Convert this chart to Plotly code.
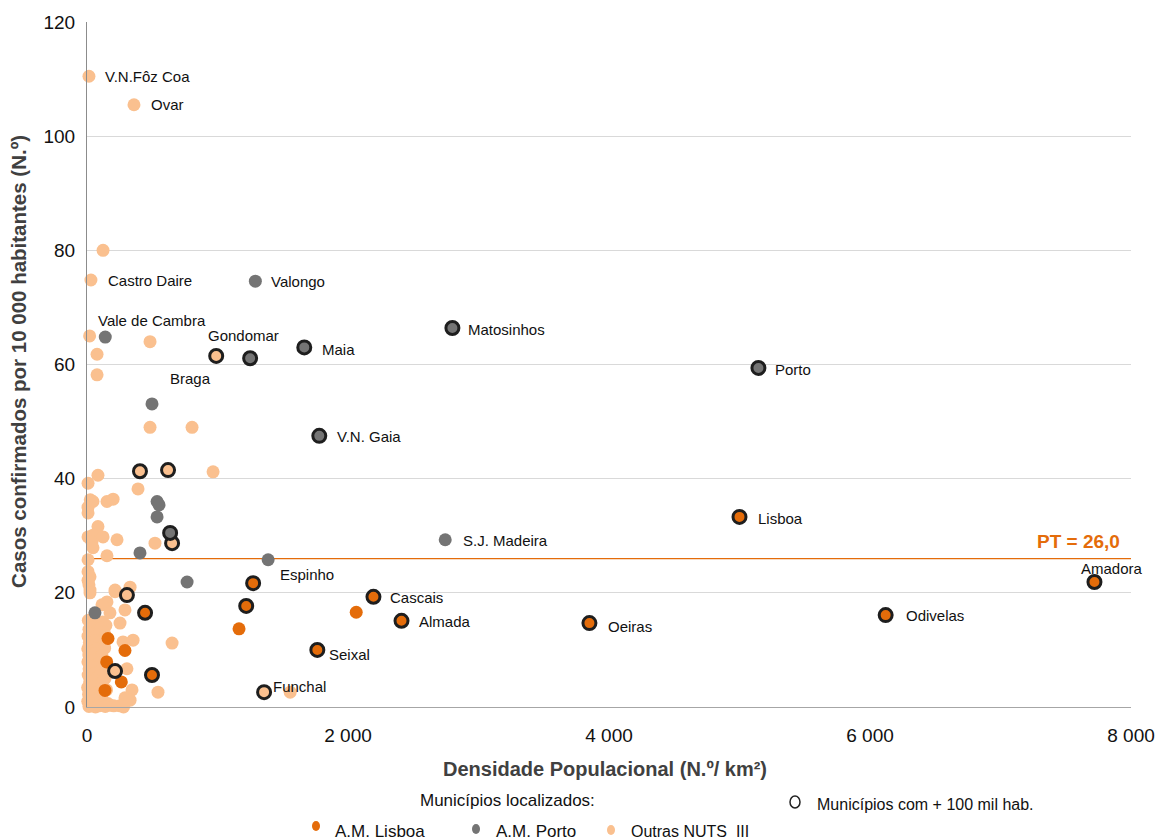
import plotly.graph_objects as go

# ---------------- DATA ----------------
# A.M. Lisboa - municipalities with more than 100 thousand inhabitants (outlined)
lis_big_names = ["Lisboa", "Amadora", "Odivelas", "Oeiras", "Cascais", "Almada", "Seixal",
                 "Sintra", "Loures", "Vila Franca de Xira", "Setúbal"]
lis_big_x = [5000, 7720, 6120, 3850, 2195, 2410, 1765, 1273, 1220, 445, 498]
lis_big_y = [33.3, 21.9, 16.1, 14.7, 19.3, 15.1, 10.0, 21.7, 17.7, 16.5, 5.6]

# A.M. Lisboa - other municipalities
lis_x = [1165, 2063, 161, 291, 151, 263, 138]
lis_y = [13.7, 16.6, 12.0, 9.9, 7.9, 4.4, 2.9]

# A.M. Porto - >100 mil hab.
por_big_names = ["Porto", "Matosinhos", "Maia", "Gondomar", "V.N. Gaia", "Santa Maria da Feira"]
por_big_x = [5145, 2800, 1665, 1250, 1780, 637]
por_big_y = [59.4, 66.4, 63.0, 61.1, 47.5, 30.5]

# A.M. Porto - other
por_names = ["Valongo", "Vale de Cambra", "S.J. Madeira", "Espinho", "", "", "", "", "", "", ""]
por_x = [1290, 140, 2745, 1388, 498, 537, 552, 537, 406, 767, 61]
por_y = [74.6, 64.8, 29.3, 25.8, 53.1, 36.0, 35.4, 33.3, 27.0, 21.9, 16.5]

# Outras NUTS III - >100 mil hab.
out_big_names = ["Braga", "", "", "", "", "", "Funchal"]
out_big_x = [990, 406, 621, 652, 306, 215, 1357]
out_big_y = [61.5, 41.3, 41.5, 28.7, 19.6, 6.3, 2.6]

# Outras NUTS III - other municipalities
out_names = ["V.N.Fôz Coa", "Ovar", "Castro Daire"]
out_x = [15, 360, 30, 123, 20, 77, 77, 483,
         483, 805, 966, 84, 8, 391, 25, 46, 8, 153, 200, 8,
         84, 8, 46, 123, 38, 46, 230, 521, 153, 8,
         8, 23, 8, 15, 23, 215, 330, 23, 215,
         153, 115, 176, 291, 253, 276, 353, 652, 306, 345, 544, 1557, 291, 330, 253, 280,
         10, 35, 60, 90, 120, 145,
         15, 45, 75, 105, 130,
         8, 28, 55, 82, 110, 140,
         18, 40, 68, 95, 125,
         6, 30, 52, 78, 102, 135,
         14, 38, 62, 88, 115,
         7, 25, 48, 72, 98, 128,
         16, 36, 58, 84, 112,
         9, 27, 50, 74, 96, 138,
         20, 42, 65, 90, 118,
         5, 30, 55, 80, 105, 150,
         12, 38, 62, 88, 115,
         6, 25, 48, 72, 98, 125, 160,
         15, 40, 65, 92, 140, 175, 205]
out_y = [110.5, 105.5, 74.8, 80.0, 65.0, 61.8, 58.2, 64.0,
         49.0, 49.0, 41.2, 40.6, 39.2, 38.2, 36.3, 36.0, 35.0, 36.0, 36.4, 34.0,
         31.6, 29.8, 30.1, 29.8, 28.9, 27.9, 29.3, 28.7, 26.5, 25.8,
         23.7, 22.8, 22.2, 21.4, 20.5, 20.5, 21.0, 20.0, 20.2,
         18.4, 17.9, 16.5, 17.0, 14.7, 11.4, 11.7, 11.2, 6.7, 3.0, 2.6, 2.6, 1.6, 1.2, 0.2, 0.0,
         15.2, 14.8, 15.0, 14.6, 14.9, 14.3,
         13.6, 13.9, 13.3, 13.8, 13.1,
         12.4, 12.8, 12.1, 12.6, 12.0, 12.5,
         11.3, 11.0, 11.6, 11.2, 10.9,
         10.2, 10.5, 9.8, 10.1, 9.7, 10.3,
         9.1, 8.8, 9.3, 8.6, 9.0,
         7.9, 7.6, 8.1, 7.4, 7.8, 7.2,
         6.7, 6.4, 6.9, 6.2, 6.6,
         5.6, 5.3, 5.8, 5.1, 5.5, 5.0,
         4.4, 4.1, 4.6, 4.0, 4.3,
         3.4, 3.1, 3.6, 2.9, 3.3, 3.0,
         2.2, 1.9, 2.4, 1.7, 2.1,
         1.0, 0.7, 1.2, 0.5, 0.9, 0.4, 0.6,
         0.1, 0.2, 0.0, 0.2, 0.1, 0.3, 0.2]

PT_VALUE = 26.0

x_tickvals = [0, 2000, 4000, 6000, 8000]
x_ticktext = ["0", "2 000", "4 000", "6 000", "8 000"]
y_tickvals = [0, 20, 40, 60, 80, 100, 120]

# label offsets (pixels): name -> (xshift, yshift)
label_offsets = {
    "V.N.Fôz Coa": (14, 0), "Ovar": (15, 0), "Castro Daire": (15, 0), "Valongo": (14, 0),
    "Maia": (16, -2), "Matosinhos": (14, -2), "Porto": (15, -2), "V.N. Gaia": (16, -1),
    "Lisboa": (16, -2), "S.J. Madeira": (16, -1), "Odivelas": (18, 0), "Oeiras": (17, -3),
    "Cascais": (15, -1), "Almada": (15, -1), "Seixal": (10, -5), "Funchal": (7, 6),
    "Espinho": (10, -15), "Vale de Cambra": (-9, 17), "Gondomar": (-44, 23),
    "Braga": (-48, -23), "Amadora": (-15, 13),
}

# ---------------- STYLE ----------------
ORANGE = "#E46C0A"
GRAY = "#747474"
PEACH = "#FAC08F"
OUTLINE = "#1E1E1E"
FONT = "Liberation Sans, Arial, sans-serif"

fig = go.Figure()

def dots(x, y, color, outlined=False):
    marker = dict(color=color, size=13, line=dict(width=0))
    if outlined:
        marker = dict(color=color, size=13, line=dict(width=3, color=OUTLINE))
    fig.add_trace(go.Scatter(x=x, y=y, mode="markers", marker=marker,
                             cliponaxis=False, showlegend=False, hoverinfo="x+y"))

dots(out_x, out_y, PEACH)
dots(por_x, por_y, GRAY)
dots(lis_x, lis_y, ORANGE)
dots(out_big_x, out_big_y, PEACH, True)
dots(por_big_x, por_big_y, GRAY, True)
dots(lis_big_x, lis_big_y, ORANGE, True)

# PT reference line
fig.add_shape(type="line", xref="paper", yref="y", x0=0, x1=1, y0=PT_VALUE, y1=PT_VALUE,
              line=dict(color=ORANGE, width=1.3), layer="below")

annotations = []
for names, xs, ys in [(lis_big_names, lis_big_x, lis_big_y), (por_big_names, por_big_x, por_big_y),
                      (por_names, por_x, por_y), (out_big_names, out_big_x, out_big_y),
                      (out_names, out_x, out_y)]:
    for n, xv, yv in zip(names, xs, ys):
        if n in label_offsets:
            dx, dy = label_offsets[n]
            annotations.append(dict(x=xv, y=yv, xref="x", yref="y", text=n, showarrow=False,
                                    xanchor="left", yanchor="middle", xshift=dx, yshift=dy,
                                    font=dict(size=15, color="#111111", family=FONT)))

annotations.append(dict(x=1, y=PT_VALUE, xref="paper", yref="y", text="<b>PT = 26,0</b>",
                        showarrow=False, xanchor="right", yanchor="bottom", yshift=5, xshift=-9,
                        font=dict(size=19, color=ORANGE, family=FONT)))

# axis titles
annotations.append(dict(x=(605 - 87) / 1044, y=-0.09, xref="paper", yref="paper",
                        text="<b>Densidade Populacional (N.º/ km²)</b>", showarrow=False,
                        xanchor="center", yanchor="middle",
                        font=dict(size=20, color="#404040", family=FONT)))
annotations.append(dict(x=-0.065, y=0.504, xref="paper", yref="paper", textangle=-90,
                        text="<b>Casos confirmados por 10 000 habitantes (N.º)</b>", showarrow=False,
                        xanchor="center", yanchor="middle",
                        font=dict(size=20.5, color="#404040", family=FONT)))

# custom legend
def px2paper(px, py):
    return (px - 87) / 1044, (707 - py) / 685

for txt, px, py, fs in [("Municípios localizados:", 418, 800, 17), ("A.M. Lisboa", 333, 831, 17),
                        ("A.M. Porto", 494, 831, 17), ("Outras NUTS  III", 629, 831, 16),
                        ("Municípios com + 100 mil hab.", 815, 804, 16)]:
    xp, yp = px2paper(px, py)
    annotations.append(dict(x=xp, y=yp, xref="paper", yref="paper", text=txt, showarrow=False,
                            xanchor="left", yanchor="middle",
                            font=dict(size=fs, color="#111111", family=FONT)))

shapes_leg = []
for col, px, py in [(ORANGE, 316, 826), (GRAY, 476, 829), (PEACH, 611, 830)]:
    shapes_leg.append(dict(type="circle", xref="paper", yref="paper",
                           x0=(px - 4 - 87) / 1044, x1=(px + 4 - 87) / 1044,
                           y0=(707 - py - 5) / 685, y1=(707 - py + 5) / 685,
                           fillcolor=col, line=dict(width=0)))
shapes_leg.append(dict(type="circle", xref="paper", yref="paper",
                       x0=(795 - 5 - 87) / 1044, x1=(795 + 5 - 87) / 1044,
                       y0=(707 - 802 - 6) / 685, y1=(707 - 802 + 6) / 685,
                       fillcolor="white", line=dict(width=1.5, color="#222222")))
for s in shapes_leg:
    fig.add_shape(**s)

fig.update_layout(
    width=1158, height=840,
    margin=dict(l=87, r=27, t=22, b=133, autoexpand=False),
    paper_bgcolor="white", plot_bgcolor="white",
    font=dict(family=FONT, size=19, color="#111111"),
    showlegend=False,
    annotations=annotations,
    xaxis=dict(range=[0, 8000], tickvals=x_tickvals, ticktext=x_ticktext, showgrid=False,
               zeroline=False, showline=True, linecolor="#A6A6A6", linewidth=1.2, automargin=False,
               ticks="", ticklabelstandoff=11, tickfont=dict(size=19, color="#111111")),
    yaxis=dict(range=[0, 120], tickvals=y_tickvals, showgrid=True, gridcolor="#D9D9D9",
               gridwidth=1, zeroline=False, showline=True, linecolor="#8C8C8C", linewidth=1.2,
               automargin=False,
               ticks="", ticklabelstandoff=7, tickfont=dict(size=19, color="#111111")),
)

fig.write_html("out.html")
